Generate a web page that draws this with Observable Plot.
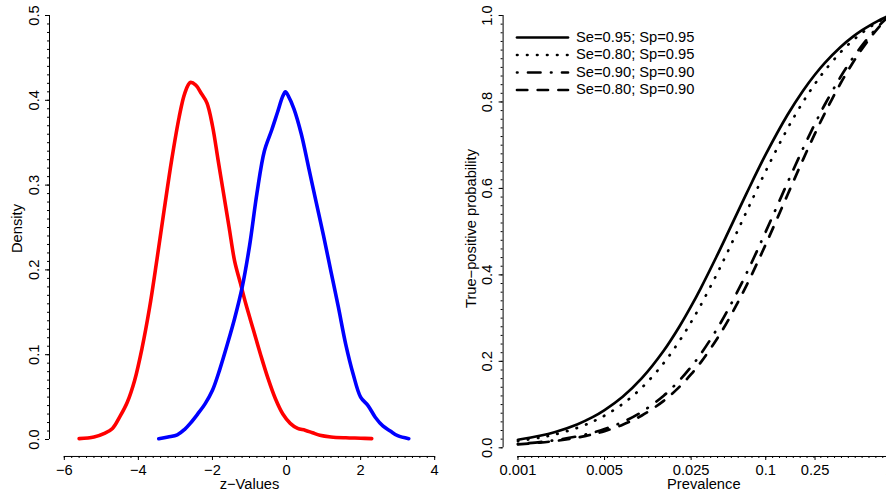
<!DOCTYPE html>
<html>
<head>
<meta charset="utf-8">
<script src="https://cdn.jsdelivr.net/npm/d3@7"></script>
<script src="https://cdn.jsdelivr.net/npm/@observablehq/plot@0.6"></script>
<style>
html, body { margin: 0; padding: 0; background: #fff; }
#chart { position: relative; width: 886px; height: 492px; overflow: hidden; background: #fff;
  font-family: "Liberation Sans", Arial, Helvetica, sans-serif; }
#chart svg { position: absolute; top: 0; max-width: none; background: transparent; }
</style>
</head>
<body>
<div id="chart"></div>
<script>
// ---------- Left panel: density curves ----------
const redX = [-5.6, -5.2, -4.9, -4.7, -4.5, -4.3, -4.1, -3.9, -3.7, -3.5, -3.3, -3.1, -2.9, -2.75, -2.6, -2.45, -2.3, -2.15, -2.0, -1.85, -1.7, -1.55, -1.4, -1.25, -1.1, -0.9, -0.7, -0.5, -0.3, -0.1, 0.1, 0.3, 0.5, 0.7, 0.9, 1.2, 1.6, 2.0, 2.3];
const redY = [0.001, 0.003, 0.0075, 0.013, 0.027, 0.044, 0.070, 0.108, 0.155, 0.212, 0.272, 0.33, 0.38, 0.408, 0.421, 0.418, 0.408, 0.397, 0.37, 0.33, 0.29, 0.25, 0.21, 0.185, 0.16, 0.13, 0.10, 0.072, 0.048, 0.03, 0.019, 0.013, 0.011, 0.008, 0.005, 0.003, 0.002, 0.0015, 0.001];
const blueX = [-3.45, -3.2, -2.95, -2.75, -2.6, -2.4, -2.2, -2.0, -1.8, -1.6, -1.4, -1.2, -1.0, -0.8, -0.6, -0.4, -0.25, -0.1, -0.03, 0.05, 0.2, 0.4, 0.6, 0.8, 1.0, 1.2, 1.4, 1.6, 1.8, 2.0, 2.2, 2.4, 2.6, 2.8, 3.0, 3.3];
const blueY = [0.001, 0.003, 0.0055, 0.012, 0.019, 0.03, 0.042, 0.058, 0.083, 0.112, 0.143, 0.179, 0.228, 0.29, 0.34, 0.365, 0.385, 0.405, 0.41, 0.405, 0.39, 0.36, 0.32, 0.28, 0.24, 0.198, 0.156, 0.112, 0.077, 0.05, 0.04, 0.026, 0.016, 0.01, 0.0045, 0.001];
const densXTicks = [-6, -4, -2, 0, 2, 4];
const densXTickLabels = ["\u22126", "\u22124", "\u22122", "0", "2", "4"];
const densYTicks = [0, 0.1, 0.2, 0.3, 0.4, 0.5];
const densYTickLabels = ["0.0", "0.1", "0.2", "0.3", "0.4", "0.5"];

// ---------- Right panel: true-positive probability vs prevalence ----------
const prevalence = [0.001, 0.0015, 0.002, 0.003, 0.004, 0.005, 0.007, 0.01, 0.015, 0.02, 0.025, 0.03, 0.04, 0.05, 0.07, 0.1, 0.15, 0.2, 0.25, 0.3, 0.4, 0.5, 0.6, 0.7, 0.8, 0.9, 1.0];
const tpSe95Sp95 = [0.0187, 0.0278, 0.0367, 0.0541, 0.0709, 0.0872, 0.1181, 0.1610, 0.2244, 0.2794, 0.3276, 0.3701, 0.4419, 0.5000, 0.5885, 0.6786, 0.7703, 0.8261, 0.8636, 0.8906, 0.9268, 0.9500, 0.9661, 0.9779, 0.9870, 0.9942, 1.0];
const tpSe80Sp95 = [0.0158, 0.0235, 0.0311, 0.0459, 0.0604, 0.0744, 0.1014, 0.1391, 0.1959, 0.2462, 0.2909, 0.3310, 0.4000, 0.4571, 0.5463, 0.6400, 0.7385, 0.8000, 0.8421, 0.8727, 0.9143, 0.9412, 0.9600, 0.9739, 0.9846, 0.9931, 1.0];
const tpSe90Sp90 = [0.0089, 0.0133, 0.0177, 0.0264, 0.0349, 0.0433, 0.0597, 0.0833, 0.1205, 0.1552, 0.1875, 0.2177, 0.2727, 0.3214, 0.4038, 0.5000, 0.6136, 0.6923, 0.7500, 0.7941, 0.8571, 0.9000, 0.9310, 0.9545, 0.9730, 0.9878, 1.0];
const tpSe80Sp90 = [0.0079, 0.0119, 0.0158, 0.0235, 0.0311, 0.0386, 0.0534, 0.0748, 0.1086, 0.1404, 0.1702, 0.1983, 0.2500, 0.2963, 0.3758, 0.4706, 0.5854, 0.6667, 0.7273, 0.7742, 0.8421, 0.8889, 0.9231, 0.9492, 0.9697, 0.9863, 1.0];
const seriesLabels = ["Se=0.95; Sp=0.95", "Se=0.80; Sp=0.95", "Se=0.90; Sp=0.90", "Se=0.80; Sp=0.90"];
const prevTicks = [0.001, 0.005, 0.025, 0.1, 0.25, 1];
const prevTickLabels = ["0.001", "0.005", "0.025", "0.1", "0.25", "1"];
const tpTicks = [0, 0.2, 0.4, 0.6, 0.8, 1];
const tpTickLabels = ["0.0", "0.2", "0.4", "0.6", "0.8", "1.0"];

// ---------- styling ----------
const FONT = "Liberation Sans, Arial, Helvetica, sans-serif";
const FS = 14.7;
const dashes = [null, "0.5,9.5", "0.5,10.5,12.5,10.5", "10.3,10.4"];
const seriesValues = [tpSe95Sp95, tpSe80Sp95, tpSe90Sp90, tpSe80Sp90];

const chart = document.getElementById("chart");

// Left plot
const redData = redX.map((x, i) => ({x, y: redY[i]}));
const blueData = blueX.map((x, i) => ({x, y: blueY[i]}));
const densXMinor = d3.range(-6, 4.0001, 0.2).map(v => Math.round(v * 10) / 10);
const densYMinor = d3.range(0, 0.5001, 0.01).map(v => Math.round(v * 100) / 100);

const left = Plot.plot({
  width: 449, height: 492,
  marginLeft: 49, marginRight: 0, marginTop: 0, marginBottom: 36,
  x: {domain: [-6.4, 4.4], axis: null},
  y: {domain: [0, 0.5], range: [439, 15], axis: null},
  style: {fontFamily: FONT, fontSize: FS + "px", background: "transparent", overflow: "visible"},
  marks: [
    Plot.ruleX([-6.4], {y1: () => 0, y2: () => 0.5, stroke: "black", strokeWidth: 1}),
    Plot.ruleY([-0.02], {x1: () => -6, x2: () => 4, stroke: "black", strokeWidth: 1}),
    Plot.axisY({ticks: densYMinor, tickSize: 2, tickFormat: () => "", label: null}),
    Plot.axisY({ticks: densYTicks, tickSize: 4, tickFormat: () => "", label: null}),
    Plot.axisX({ticks: densXMinor, tickSize: 2, tickFormat: () => "", label: null}),
    Plot.axisX({ticks: densXTicks, tickSize: 4, tickFormat: () => "", label: null}),
    Plot.text(densYTicks, {y: d => d, text: (d, i) => densYTickLabels[i], frameAnchor: "left", dx: -15, rotate: -90, textAnchor: "middle", lineAnchor: "middle", fontSize: FS}),
    Plot.text(densXTicks, {x: d => d, text: (d, i) => densXTickLabels[i], frameAnchor: "bottom", dy: 13.5, textAnchor: "middle", lineAnchor: "middle", fontSize: FS}),
    Plot.text(["z\u2212Values"], {frameAnchor: "bottom", dy: 27.5, textAnchor: "middle", lineAnchor: "middle", fontSize: FS}),
    Plot.text(["Density"], {frameAnchor: "left", dx: -32, rotate: -90, textAnchor: "middle", lineAnchor: "middle", fontSize: FS}),
    Plot.line(redData, {x: "x", y: "y", stroke: "#ff0000", strokeWidth: 3.6, curve: "catmull-rom", strokeLinejoin: "round", strokeLinecap: "round"}),
    Plot.line(blueData, {x: "x", y: "y", stroke: "#0000ff", strokeWidth: 3.6, curve: "catmull-rom", strokeLinejoin: "round", strokeLinecap: "round"})
  ]
});
left.style.left = "0px";
chart.appendChild(left);

// Right plot
const tpXMinor = d3.range(0, 55).map(i => Math.pow(10, -3 + i * 3 / 54));
const tpYMinor = d3.range(0, 1.0001, 0.02).map(v => Math.round(v * 100) / 100);
const lineMarks = seriesValues.map((vals, k) =>
  Plot.line(prevalence.map((p, i) => ({p, v: vals[i]})), {
    x: "p", y: "v", stroke: "black", strokeWidth: 2.7, curve: "catmull-rom",
    strokeDasharray: dashes[k] || undefined, strokeLinecap: "round", strokeLinejoin: "round"
  })
);
const right = Plot.plot({
  width: 461, height: 492,
  marginLeft: 59.6, marginRight: 0, marginTop: 0, marginBottom: 36,
  x: {type: "log", domain: [Math.pow(10, -3.12), Math.pow(10, 0.12)], axis: null},
  y: {domain: [0, 1], range: [447.3, 15], axis: null},
  style: {fontFamily: FONT, fontSize: FS + "px", background: "transparent", overflow: "visible"},
  marks: [
    Plot.ruleX([Math.pow(10, -3.12)], {y1: () => 0, y2: () => 1, stroke: "black", strokeWidth: 1}),
    Plot.ruleY([-0.0201], {x1: () => 0.001, x2: () => 1, stroke: "black", strokeWidth: 1}),
    Plot.axisY({ticks: tpYMinor, tickSize: 2, tickFormat: () => "", label: null}),
    Plot.axisY({ticks: tpTicks, tickSize: 4, tickFormat: () => "", label: null}),
    Plot.axisX({ticks: tpXMinor, tickSize: 2, tickFormat: () => "", label: null}),
    Plot.axisX({ticks: prevTicks, tickSize: 4, tickFormat: () => "", label: null}),
    Plot.text(tpTicks, {y: d => d, text: (d, i) => tpTickLabels[i], frameAnchor: "left", dx: -16, rotate: -90, textAnchor: "middle", lineAnchor: "middle", fontSize: FS}),
    Plot.text(prevTicks, {x: d => d, text: (d, i) => prevTickLabels[i], frameAnchor: "bottom", dy: 13.5, textAnchor: "middle", lineAnchor: "middle", fontSize: FS}),
    Plot.text(["Prevalence"], {frameAnchor: "bottom", dy: 27.5, textAnchor: "middle", lineAnchor: "middle", fontSize: FS}),
    Plot.text(["True\u2212positive probability"], {frameAnchor: "left", dx: -32, rotate: -90, textAnchor: "middle", lineAnchor: "middle", fontSize: FS}),
    ...lineMarks
  ]
});
right.style.left = "443px";
chart.appendChild(right);

// Legend (top-left inside right panel)
const leg = d3.select(chart).append("svg")
  .attr("width", 886).attr("height", 492)
  .style("left", "0px").style("position", "absolute");
const rowsY = [37.5, 55, 72.5, 90];
seriesLabels.forEach((lab, i) => {
  const ln = leg.append("line")
    .attr("x1", 517).attr("x2", 568).attr("y1", rowsY[i]).attr("y2", rowsY[i])
    .attr("stroke", "black").attr("stroke-width", 2.7).attr("stroke-linecap", "round");
  if (dashes[i]) ln.attr("stroke-dasharray", dashes[i]);
  leg.append("text")
    .attr("x", 576).attr("y", rowsY[i] - 1).attr("dy", "0.35em")
    .attr("font-family", FONT).attr("font-size", FS)
    .text(lab);
});
</script>
</body>
</html>
